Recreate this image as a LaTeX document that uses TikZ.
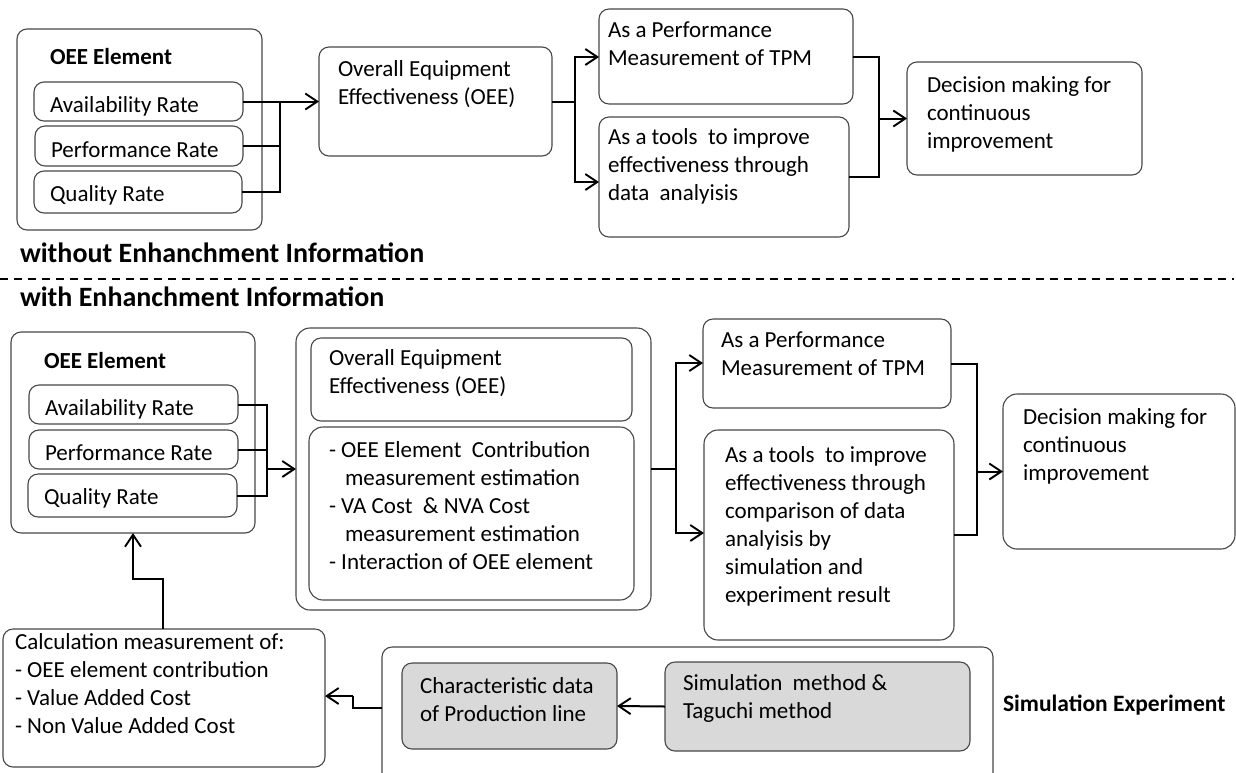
\documentclass[tikz,border=0pt]{standalone}
\usepackage{fontspec}
\setmainfont{Carlito}
\usetikzlibrary{arrows.meta}

% box given by its two corners (x1,y1) and (x2,y2)
\newcommand\mkbox[6]{\node[#1, minimum width={(#5)-(#3)}, minimum height={(#6)-(#4)}] (#2) at ({((#3)+(#5))/2},{((#4)+(#6))/2}) {};}

\begin{document}
\begin{tikzpicture}[x=1pt,y=-1pt,
  box/.style={draw=black!72, line width=1.1pt, rounded corners=10pt, inner sep=0pt, outer sep=0pt, fill=white},
  bigbox/.style={box, rounded corners=14pt},
  graybox/.style={box, fill=black!15},
  % text placed by the baseline of its first line
  txt/.style={inner sep=0pt, outer sep=0pt, align=left, anchor=north west, yshift=19.6pt,
              font=\fontsize{23}{28}\selectfont, execute at begin node=\strut},
  btxt/.style={inner sep=0pt, outer sep=0pt, anchor=base west, font=\fontsize{23}{28}\selectfont\bfseries},
  head/.style={btxt, font=\fontsize{28}{32}\selectfont\bfseries},
  link/.style={draw=black, line width=2pt},
  arr/.style={link, -{Straight Barb[length=12pt,width=16pt,line width=1.9pt]}},
  sep/.style={draw=black, line width=1.7pt, dash pattern=on 8pt off 6pt}
]
\useasboundingbox (0,0) rectangle (1236,772);
\clip (0,0) rectangle (1236,772);

% ---------------- upper panel: without enhancement ----------------
\mkbox{box}{oeeA}{17}{29}{262}{230}
\node[btxt] (oeeAt) at (50,64) {OEE Element};
\mkbox{box}{avA}{34}{82}{243}{121}
\mkbox{box}{peA}{35}{126}{243}{166}
\mkbox{box}{quA}{34}{171}{242}{213}
\node[txt] (avAt) at (50,112) {Availability Rate};
\node[txt] (peAt) at (51,157) {Performance Rate};
\node[txt] (quAt) at (50,201) {Quality Rate};

\mkbox{box}{ovA}{319}{47}{552}{156}
\node[txt] (ovAt) at (338,80) {Overall Equipment\\Effectiveness (OEE)};

\mkbox{box}{tpmA}{599}{9}{853}{104}
\node[txt] (tpmAt) at (608,41) {As a Performance\\Measurement of TPM};
\mkbox{box}{toolA}{599}{117}{849}{237}
\node[txt] (toolAt) at (608,148) {As a tools\ \ to improve\\effectiveness through\\data\ \ analyisis};

\mkbox{box}{decA}{907}{62}{1142}{175}
\node[txt] (decAt) at (927,96) {Decision making for\\continuous\\improvement};

% element rates joined into OEE
\coordinate (jA) at (280,0);
\draw[link] (avA.east) -- (avA.east -| jA) -- (quA.east -| jA) -- (quA.east);
\draw[link] (peA.east) -- (peA.east -| jA);
\draw[arr] (avA.east) -- (avA.east -| ovA.west);

% OEE split into its two uses
\coordinate (sA) at (575,0);
\coordinate (sAt) at (575,57);
\coordinate (sAb) at (575,182);
\draw[link] (ovA.east) -- (ovA.east -| sA);
\draw[arr] (sAb) -- (sAt) -- (sAt -| tpmA.west);
\draw[arr] (sAt) -- (sAb) -- (sAb -| toolA.west);

% both uses lead to the decision
\coordinate (mA) at (879,0);
\draw[link] (tpmA.east) -- (tpmA.east -| mA) -- (toolA.east -| mA) -- (toolA.east);
\draw[arr] (decA.west -| mA) -- (decA.west);

% ---------------- separator ----------------
\node[head] (hWithout) at (20,262) {without Enhanchment Information};
\coordinate (dL) at (0,279);
\coordinate (dR) at (1234,279);
\draw[sep] (dL) -- (dR);
\node[head] (hWith) at (20,306) {with Enhanchment Information};

% ---------------- lower panel: with enhancement ----------------
\mkbox{box}{oeeB}{11}{332}{255}{533}
\node[btxt] (oeeBt) at (44,368) {OEE Element};
\mkbox{box}{avB}{29}{385}{238}{424}
\mkbox{box}{peB}{29}{430}{238}{469}
\mkbox{box}{quB}{28}{474}{237}{517}
\node[txt] (avBt) at (45,415) {Availability Rate};
\node[txt] (peBt) at (45,460) {Performance Rate};
\node[txt] (quBt) at (44,504) {Quality Rate};

\mkbox{bigbox}{grpB}{296}{328}{651}{610}
\mkbox{box}{ovB}{311}{338}{632}{421}
\node[txt] (ovBt) at (329,369) {Overall Equipment\\Effectiveness (OEE)};
\mkbox{bigbox}{lstB}{309}{427}{634}{600}
\node[txt] (lstBt) at (329,461) {- OEE Element\ \ Contribution\\\hspace*{16pt}measurement estimation\\- VA Cost\ \ \& NVA Cost\\\hspace*{16pt}measurement estimation\\- Interaction of OEE element};

\mkbox{box}{tpmB}{703}{319}{951}{408}
\node[txt] (tpmBt) at (721,351) {As a Performance\\Measurement of TPM};
\mkbox{bigbox}{toolB}{704}{430}{954}{640}
\node[txt] (toolBt) at (725,466) {As a tools\ \ to improve\\effectiveness through\\comparison of data\\analyisis by\\simulation and\\experiment result};

\mkbox{bigbox}{decB}{1003}{394}{1235}{549}
\node[txt] (decBt) at (1023,428) {Decision making for\\continuous\\improvement};

\mkbox{box}{calB}{3}{629}{325}{767}
\node[txt] (calBt) at (15,653) {Calculation measurement of:\\- OEE element contribution\\- Value Added Cost\\- Non Value Added Cost};

\mkbox{box}{simB}{382}{647}{993}{800}
\mkbox{graybox}{chrB}{402}{663}{617}{749}
\node[txt] (chrBt) at (420,697) {Characteristic data\\of Production line};
\mkbox{graybox}{mthB}{665}{662}{970}{751}
\node[txt] (mthBt) at (683,694) {Simulation\ \ method \&\\Taguchi method};
\node[btxt, font=\fontsize{23.5}{28}\selectfont\bfseries] (simBt) at (1003,711) {Simulation Experiment};

% element rates joined into the enhanced OEE group
\coordinate (jB) at (267,469);
\draw[link] (avB.east) -- (avB.east -| jB) -- (quB.east -| jB) -- (quB.east);
\draw[link] (peB.east) -- (peB.east -| jB);
\draw[arr] (jB) -- (jB -| grpB.west);

% group split into its two uses
\coordinate (sB) at (676,0);
\coordinate (sBt) at (676,363);
\coordinate (sBb) at (676,533);
\draw[link] (grpB.east) -- (grpB.east -| sB);
\draw[arr] (sBb) -- (sBt) -- (sBt -| tpmB.west);
\draw[arr] (sBt) -- (sBb) -- (sBb -| toolB.west);

% both uses lead to the decision
\coordinate (mB) at (977,0);
\draw[link] (tpmB.east) -- (tpmB.east -| mB) -- (toolB.east -| mB) -- (toolB.east);
\draw[arr] (decB.west -| mB) -- (decB.west);

% feedback from the calculation back to the elements
\coordinate (fB1) at (163,579);
\coordinate (fB2) at (133,579);
\draw[arr] (calB.north -| fB1) -- (fB1) -- (fB2) -- (oeeB.south -| fB2);

% simulation experiment feeding the calculation
\coordinate (gB1) at (353,708);
\coordinate (gB2) at (353,696);
\draw[link] (simB.west |- gB1) -- (gB1) -- (gB2);
\draw[arr] (gB2) -- (gB2 -| calB.east);
\draw[arr] (mthB.west) -- (chrB.east);
\end{tikzpicture}
\end{document}
